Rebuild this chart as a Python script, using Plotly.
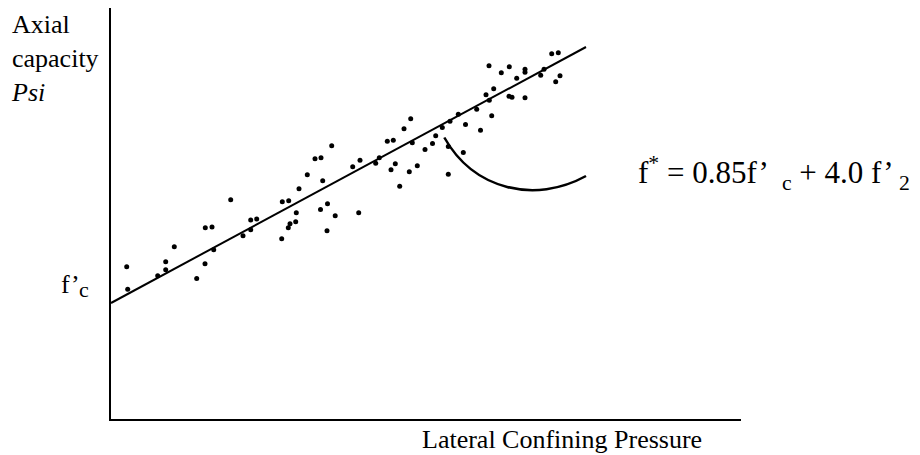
import plotly.graph_objects as go

# ---- data (arbitrary units) ----
pressure = [1.57, 1.67, 4.67, 5.47, 5.47, 6.33, 8.57, 9.4, 9.43, 10.1, 10.27, 11.97, 13.2,
            13.97, 13.97, 14.57, 17.07, 17.13, 17.77, 17.73, 17.9, 18.47, 18.53, 18.8, 19.63,
            20.4, 21.0, 21.17, 20.95, 21.65, 21.6, 22.42, 22.07, 24.77, 24.17, 24.9, 26.47,
            26.83, 27.63, 28.23, 28.0, 28.43, 28.87, 29.3, 29.97, 29.83, 30.13, 30.63, 31.4,
            32.15, 32.47, 33.13, 33.73, 33.73, 33.9, 34.73, 35.23, 35.45, 36.57, 36.95, 37.5,
            37.8, 37.83, 38.07, 38.27, 39.03, 39.83, 39.8, 40.1, 40.57, 41.4, 41.4, 41.4,
            42.97, 43.3, 44.07, 44.73, 44.47, 44.9]
capacity = [15.23, 12.97, 14.33, 15.73, 14.93, 17.23, 14.05, 15.53, 19.13, 19.2, 16.93, 21.93, 18.33,
            19.9, 18.93, 20.0, 18.03, 21.73, 21.83, 19.13, 19.53, 19.73, 20.63, 23.03, 24.43,
            26.03, 26.13, 23.83, 20.95, 21.53, 18.83, 20.33, 27.33, 20.63, 25.23, 25.87, 25.57,
            26.13, 27.77, 27.87, 24.93, 25.53, 23.27, 29.03, 30.03, 24.73, 27.63, 25.33, 26.95,
            27.55, 28.33, 29.15, 27.25, 24.48, 29.77, 30.47, 26.65, 29.45, 30.97, 28.88, 32.43,
            35.33, 31.87, 30.33, 33.03, 34.63, 35.23, 32.27, 32.17, 34.07, 34.97, 34.67, 32.13,
            34.37, 34.97, 36.53, 36.63, 33.73, 34.33]

fit_x = [0.0, 47.5]
fit_y = [11.6, 37.2]

FONT = "Liberation Serif, Times New Roman, serif"

fig = go.Figure()
fig.add_trace(go.Scatter(x=fit_x, y=fit_y, mode="lines",
                         line=dict(color="black", width=2), hoverinfo="skip",
                         cliponaxis=False))
fig.add_trace(go.Scatter(x=pressure, y=capacity, mode="markers",
                         marker=dict(color="black", size=5), cliponaxis=False))

# curved pointer from the fit line towards the equation
fig.add_shape(type="path", xref="x", yref="y",
              path="M 33.33,28.15 C 36.3,22.9 42.4,21.5 47.5,24.3",
              line=dict(color="black", width=2.5))

# the page body keeps an 8px browser margin, so the figure is laid out 8px up/left
OFF = 8
L, T, W, H = 111 - OFF, 8 - OFF, 630, 411


def px(x):
    return (x - OFF - L) / W


def py(y):
    return (T + H - (y - OFF)) / H


ann = [
    dict(text="Axial<br>capacity<br><i>Psi</i>", x=px(9), y=py(8), xanchor="left", yanchor="top",
         align="left", size=26),
    dict(text="f’", x=px(59), y=py(284), xanchor="left", yanchor="middle", align="left", size=26),
    dict(text="c", x=px(77), y=py(289), xanchor="left", yanchor="middle", align="left", size=22),
    dict(text="f<sup>*</sup> = 0.85f’  <sub>c</sub> + 4.0 f’ <sub>2</sub>", x=px(636), y=py(173),
         xanchor="left", yanchor="middle", align="left", size=31),
    dict(text="Lateral Confining Pressure", x=px(562), y=py(439), xanchor="center",
         yanchor="middle", align="center", size=26),
]
for a in ann:
    fig.add_annotation(text=a["text"], x=a["x"], y=a["y"], xref="paper", yref="paper",
                       xanchor=a["xanchor"], yanchor=a["yanchor"], align=a["align"],
                       showarrow=False, font=dict(family=FONT, size=a["size"], color="black"))

fig.update_xaxes(range=[0, 63], showline=True, linecolor="black", linewidth=2, showgrid=False,
                 zeroline=False, showticklabels=False, ticks="")
fig.update_yaxes(range=[0, 41.1], showline=True, linecolor="black", linewidth=2, showgrid=False,
                 zeroline=False, showticklabels=False, ticks="")
fig.update_layout(width=920, height=455, autosize=False, showlegend=False,
                  margin=dict(l=L, r=920 - L - W, t=T, b=455 - T - H, pad=0),
                  plot_bgcolor="white", paper_bgcolor="white",
                  font=dict(family=FONT, color="black"))

fig.write_html("out.html")
